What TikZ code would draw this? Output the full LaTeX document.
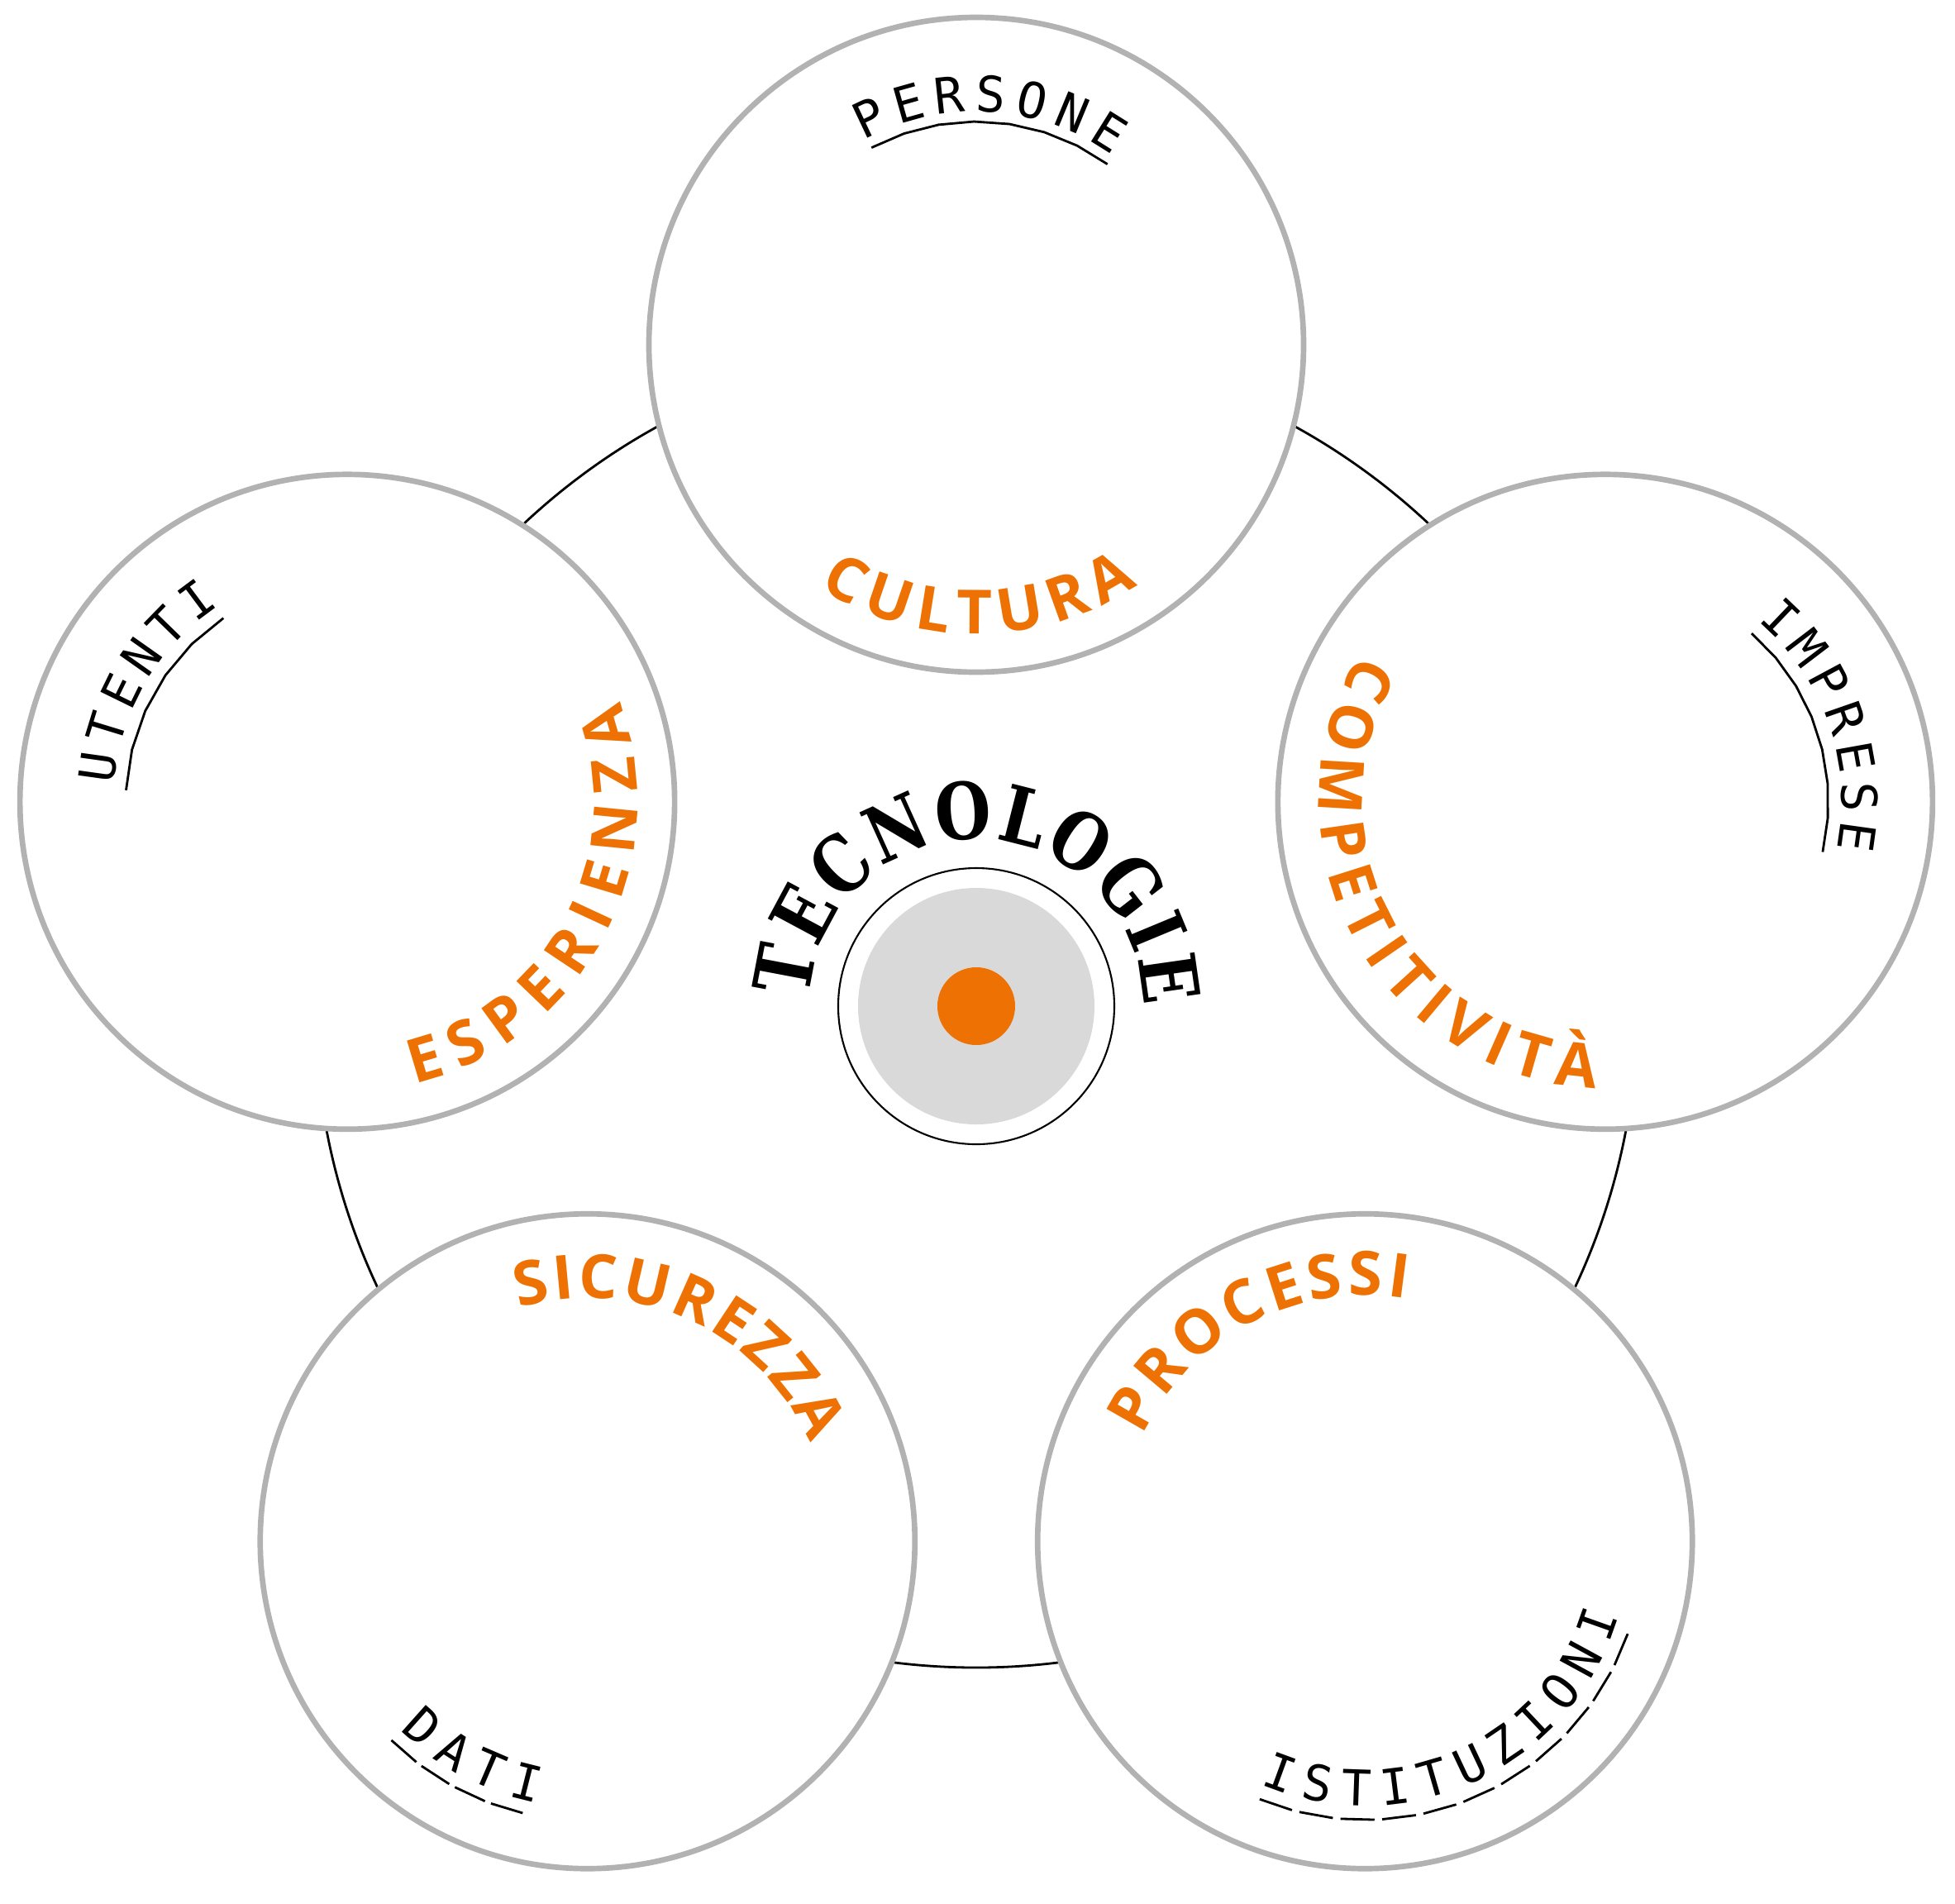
\documentclass[tikz,border=0pt]{standalone}
\usepackage{fontspec}
\usetikzlibrary{decorations.text}

\newfontfamily\labelfont{Open Sans}
\newfontfamily\tagfont{DejaVu Sans Mono}
\newfontfamily\hubfont[FakeStretch=0.82]{DejaVu Serif}

\definecolor{accent}{RGB}{237,114,3}
\definecolor{ring}{RGB}{178,178,178}
\definecolor{hubgrey}{RGB}{217,217,217}

\begin{document}
\begin{tikzpicture}[
  bubble/.style={circle, draw=ring, line width=1.9pt, fill=white, minimum size=79.2mm, inner sep=0pt},
  orbit/.style={line width=0.8pt},
  uline/.style={line width=0.8pt},
  keyword/.style={decorate, decoration={text along path, text align={fit to path}, text color=accent,
                  text={|\labelfont\bfseries\fontsize{21}{21}\selectfont|#1}}},
  tag/.style={decorate, decoration={text along path, text align={fit to path},
              text={|\tagfont\fontsize{17}{17}\selectfont|#1}}},
]
\useasboundingbox (-11.81,-10.85) rectangle (11.84,12.17);

% ================= ring and the five themes =================
\draw[orbit] (0,0) circle[radius=8];

\node[bubble] (cultura) at (90:8) {};
\node[bubble] (esperienza) at (162:8) {};
\node[bubble] (competitivita) at (18:8) {};
\node[bubble] (sicurezza) at (234:8) {};
\node[bubble] (processi) at (306:8) {};

% ================= hub =================
\node[circle, draw, line width=0.6pt, minimum size=33.4mm, inner sep=0pt] (hubring) at (0,0) {};
\node[circle, fill=hubgrey, minimum size=28.6mm, inner sep=0pt] (hubdisc) at (0,0) {};
\node[circle, fill=accent, minimum size=9.4mm, inner sep=0pt] (hubdot) at (0,0) {};
\path[decorate, decoration={text along path, text align={fit to path},
      text={|\hubfont\bfseries\fontsize{27}{27}\selectfont|TECNOLOGIE}}]
  ([shift={(177.4:2.02)}]hubdot.center) arc[start angle=177.4, end angle=-0.2, radius=2.02];

% ================= orange keywords =================
\path[keyword=CULTURA]
  ([shift={(-122.9:3.5)}]cultura.center) arc[start angle=-122.9, end angle=-56.1, radius=3.5];
\path[keyword=ESPERIENZA]
  ([shift={(-76.7:3.51)}]esperienza.center) arc[start angle=-76.7, end angle=20.2, radius=3.51];
\path[keyword=COMPETITIVITÀ]
  ([shift={(148.9:3.46)}]competitivita.center) arc[start angle=148.9, end angle=268.1, radius=3.46];
\path[keyword=SICUREZZA]
  ([shift={(106.4:2.945)}]sicurezza.center) arc[start angle=106.4, end angle=23.7, radius=2.945];
\path[keyword=PROCESSI]
  ([shift={(154.6:2.975)}]processi.center) arc[start angle=154.6, end angle=80.2, radius=2.975];

% ================= black tags with underlines =================
\path[tag=PERSONE]
  ([shift={(118.9:2.82)}]cultura.center) arc[start angle=118.9, end angle=54.3, radius=2.82];
\draw[uline] ([shift={(118:2.7)}]cultura.center)
  \foreach \i in {1,...,7} { -- ([shift={({118-\i*64/7}:2.7)}]cultura.center) };

\path[tag=UTENTI]
  ([shift={(175.7:2.83)}]esperienza.center) arc[start angle=175.7, end angle=123, radius=2.83];
\draw[uline] ([shift={(177:2.68)}]esperienza.center)
  \foreach \i in {1,...,5} { -- ([shift={({177-\i*53/5}:2.68)}]esperienza.center) };

\path[tag=IMPRESE]
  ([shift={(49.9:2.86)}]competitivita.center) arc[start angle=49.9, end angle=-11.5, radius=2.86];
\draw[uline] ([shift={(49:2.7)}]competitivita.center)
  \foreach \i in {1,...,7} { -- ([shift={({49-\i*62/7}:2.7)}]competitivita.center) };

\path[tag=DATI]
  ([shift={(225.1:3.22)}]sicurezza.center) arc[start angle=225.1, end angle=259.1, radius=3.22];
\foreach \i in {0,...,3}
  \draw[uline] ([shift={({225.4+\i*8.125}:3.38)}]sicurezza.center)
    -- ([shift={({225.4+\i*8.125+6.8}:3.38)}]sicurezza.center);

\path[tag=ISTITUZIONI]
  ([shift={(246.7:3.2)}]processi.center) arc[start angle=246.7, end angle=343.7, radius=3.2];
\foreach \i in {0,...,10}
  \draw[uline] ([shift={({247.8+\i*8.58}:3.37)}]processi.center)
    -- ([shift={({247.8+\i*8.58+7}:3.37)}]processi.center);

\end{tikzpicture}
\end{document}
